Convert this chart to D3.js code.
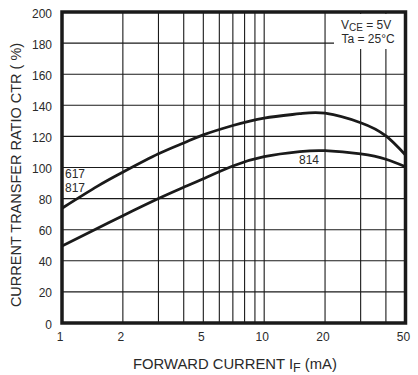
<!DOCTYPE html>
<html><head><meta charset="utf-8">
<script src="https://cdn.jsdelivr.net/npm/d3@7/dist/d3.min.js"></script>
<style>
html,body{margin:0;padding:0;background:#fff;}
svg{display:block;font-family:"Liberation Sans",Arial,sans-serif;}
</style></head>
<body>
<svg id="c" width="418" height="375"></svg>
<script>
const current = [1, 1.5, 2, 3, 4, 5, 7, 10, 15, 20, 30, 40, 50];
const ctrTop = [73.8, 88, 97, 108.8, 115.8, 121, 127, 131.8, 134.6, 134.9, 128.8, 120.3, 108];
const ctrBottom = [49.5, 61, 69, 80, 87.3, 92.8, 101, 107, 110.2, 110.8, 108.7, 105.3, 100.5];
const xTickLabels = [1, 2, 5, 10, 20, 50];
const xGrid = [2, 3, 4, 5, 6, 7, 8, 9, 10, 20, 30, 40];
const yTicks = [0, 20, 40, 60, 80, 100, 120, 140, 160, 180, 200];
const yGrid = [20, 40, 60, 80, 100, 120, 140, 160, 180];

const svg = d3.select("#c");
const L = 62, R = 405.5, T = 12, B = 323;
const x = d3.scaleLog().domain([1, 50]).range([L, R]);
const y = d3.scaleLinear().domain([0, 200]).range([B, T]);
const ink = "#1a1a1a", txt = "#2a2a2a";

// grid
svg.append("g").selectAll("line").data(xGrid).join("line")
  .attr("x1", d => x(d)).attr("x2", d => x(d)).attr("y1", T).attr("y2", B)
  .attr("stroke", ink).attr("stroke-width", 1.1);
svg.append("g").selectAll("line").data(yGrid).join("line")
  .attr("x1", L).attr("x2", R).attr("y1", d => y(d)).attr("y2", d => y(d))
  .attr("stroke", ink).attr("stroke-width", 1.1);

// legend background
svg.append("rect").attr("x", 334).attr("y", 14).attr("width", R - 335).attr("height", 35).attr("fill", "#fff");

// curves
svg.append("clipPath").attr("id", "clip").append("rect")
  .attr("x", L).attr("y", T).attr("width", R - L).attr("height", B - T);
const line = d3.line().x(d => x(d[0])).y(d => y(d[1])).curve(d3.curveNatural);
[ctrTop, ctrBottom].forEach(s => {
  svg.append("path").datum(current.map((c, i) => [c, s[i]]))
    .attr("d", line).attr("fill", "none").attr("stroke", ink)
    .attr("stroke-width", 2.8).attr("stroke-linejoin", "round").attr("clip-path", "url(#clip)");
});

// border
svg.append("rect").attr("x", L).attr("y", T).attr("width", R - L).attr("height", B - T)
  .attr("fill", "none").attr("stroke", ink).attr("stroke-width", 3.5);

// tick labels
svg.append("g").selectAll("text").data(yTicks).join("text")
  .attr("x", 52).attr("y", d => y(d) + 5.5).attr("text-anchor", "end")
  .attr("font-size", 12).attr("fill", txt).text(d => d);
svg.append("g").selectAll("text").data(xTickLabels).join("text")
  .attr("x", d => x(d) - 2).attr("y", 340.5).attr("text-anchor", "middle")
  .attr("font-size", 12).attr("fill", txt).text(d => d);

// axis titles
svg.append("text").attr("transform", "translate(21,175) rotate(-90)")
  .attr("text-anchor", "middle").attr("font-size", 14.5).attr("fill", txt)
  .text("CURRENT TRANSFER RATIO CTR ( %)");
const xt = svg.append("text").attr("x", 133).attr("y", 368.5).attr("font-size", 14.8).attr("fill", txt);
xt.append("tspan").text("FORWARD CURRENT I");
xt.append("tspan").attr("font-size", 12.5).attr("dy", 3).text("F");
xt.append("tspan").attr("dy", -3).text(" (mA)");

// series labels
svg.append("text").attr("x", 65).attr("y", 178).attr("font-size", 12).attr("fill", txt).text("617");
svg.append("text").attr("x", 65).attr("y", 192).attr("font-size", 12).attr("fill", txt).text("817");
svg.append("text").attr("x", 299).attr("y", 164).attr("font-size", 12).attr("fill", txt).text("814");

// conditions
const l1 = svg.append("text").attr("x", 341).attr("y", 28.5).attr("font-size", 12).attr("fill", txt);
l1.append("tspan").text("V");
l1.append("tspan").attr("font-size", 10).attr("dy", 2.5).text("CE");
l1.append("tspan").attr("dy", -2.5).text(" = 5V");
svg.append("text").attr("x", 341.5).attr("y", 42.5).attr("font-size", 12).attr("fill", txt).text("Ta = 25°C");
</script>
</body></html>
